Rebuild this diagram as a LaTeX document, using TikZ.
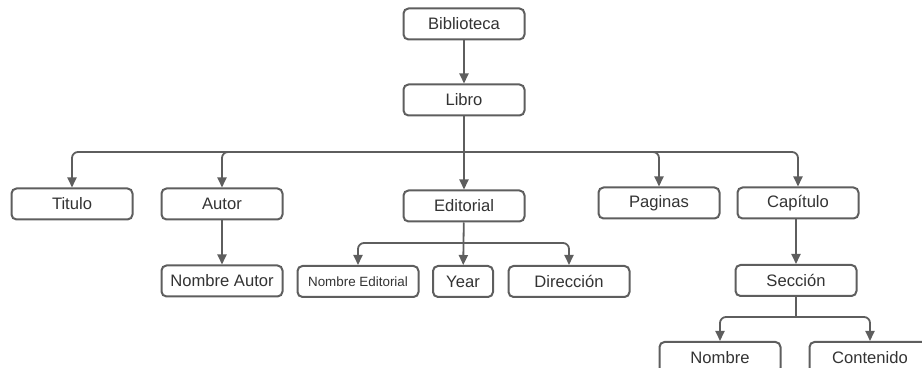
\documentclass[tikz,border=0pt]{standalone}
\usepackage{fontspec}
\setmainfont{Liberation Sans}
\usetikzlibrary{arrows.meta}
\definecolor{boxline}{HTML}{5E5E5E}
\definecolor{boxtext}{HTML}{333333}

\begin{document}
\begin{tikzpicture}[x=0.5pt, y=-0.5pt,
        box/.style={rectangle, rounded corners=2.5pt, draw=boxline, line width=1pt, fill=white, minimum width=60.5pt, minimum height=15.5pt, inner sep=0pt, text=boxtext, font=\fontsize{8.3}{10}\selectfont},
        small/.style={font=\fontsize{6.7}{8}\selectfont},
        arrow/.style={-{Triangle[length=5pt, width=4.5pt]}, draw=boxline, line width=0.9pt, rounded corners=3pt}
    ]
    \useasboundingbox (0,0) rectangle (922,368);
    \clip (0,0) rectangle (922,368);

    % Top
    \node[box] (bib) at (464,24) {Biblioteca};
    \node[box] (libro) at (464,100) {Libro};
    \draw[arrow] (bib) -- (libro);

    % Libro children
    \node[box] (titulo) at (72,204) {Titulo};
    \node[box] (autor) at (222,204) {Autor};
    \node[box] (editorial) at (464,206) {Editorial};
    \node[box] (paginas) at (659,203) {Paginas};
    \node[box] (capitulo) at (798,203) {Capítulo};
    \coordinate (busL) at (464,152);
    \draw[arrow] (libro) -- (editorial);
    \draw[arrow] (busL) -| (titulo.north);
    \draw[arrow] (busL) -| (autor.north);
    \draw[arrow] (busL) -| (paginas.north);
    \draw[arrow] (busL) -| (capitulo.north);

    % Autor
    \node[box] (nautor) at (222,281) {Nombre Autor};
    \draw[arrow] (autor) -- (nautor);

    % Editorial
    \node[box, small] (neditorial) at (358,281.5) {Nombre Editorial};
    \node[box, minimum width=30pt] (year) at (463,281.5) {Year};
    \node[box] (direccion) at (569,281.5) {Dirección};
    \coordinate (busE) at (464,243);
    \draw[arrow] (editorial) -- (year);
    \draw[arrow] (busE) -| (neditorial.north);
    \draw[arrow] (busE) -| (direccion.north);

    % Capitulo
    \node[box] (seccion) at (796,280.5) {Sección};
    \draw[arrow] (capitulo.south -| seccion.north) -- (seccion);
    \node[box] (nombre) at (720,357.5) {Nombre};
    \node[box] (contenido) at (870,357.5) {Contenido};
    \coordinate (busS) at (796,317);
    \draw[boxline, line width=0.9pt] (seccion.south) -- (busS);
    \draw[arrow] (busS) -| (nombre.north);
    \draw[arrow] (busS) -| (contenido.north);
\end{tikzpicture}
\end{document}
